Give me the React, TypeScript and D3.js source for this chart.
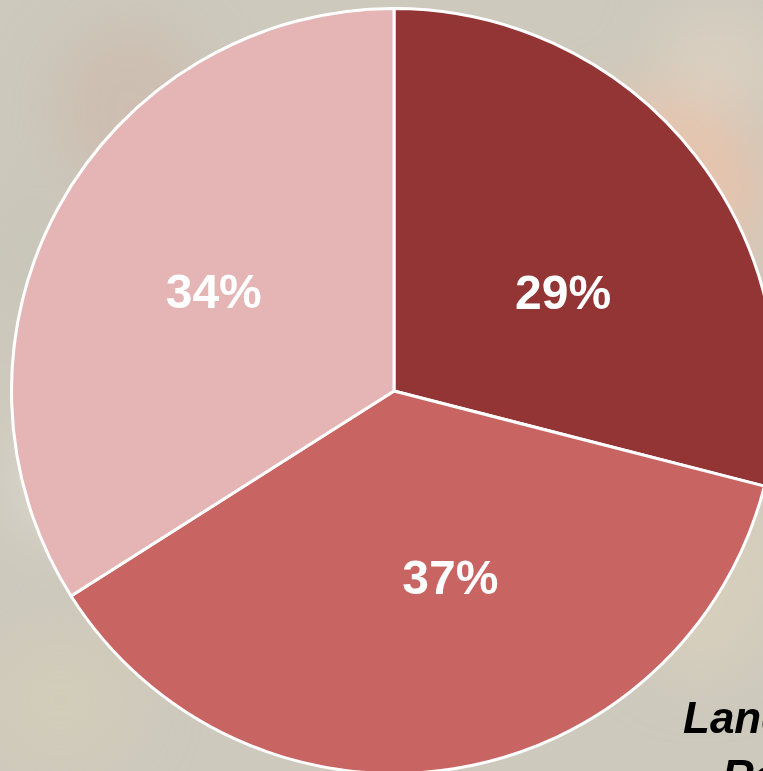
import React from "react";
import * as d3 from "d3";

const categories = ["A", "B", "C"];
const values = [29, 37, 34];
const labels = ["29%", "37%", "34%"];
const colors = ["#943535", "#c86462", "#e5b5b5"];
// fine label nudges (px) relative to arc centroid
const labelNudge = [[11, 24], [25, -11], [-5, -3]];

const W = 763;
const H = 771;
const CX = 394;
const CY = 391;
const R = 382.5;

const blobs = [
  { x: 660, y: 190, rx: 110, ry: 100, c: "#ecc2a8", o: 0.75 },
  { x: 720, y: 60, rx: 60, ry: 50, c: "#e2d6c4", o: 0.6 },
  { x: 130, y: 110, rx: 80, ry: 90, c: "#cdb0a0", o: 0.4 },
  { x: 60, y: 480, rx: 50, ry: 60, c: "#e0ddd2", o: 0.7 },
  { x: 700, y: 560, rx: 80, ry: 120, c: "#ddd2bc", o: 0.6 },
  { x: 60, y: 700, rx: 80, ry: 70, c: "#d6ceb8", o: 0.6 },
  { x: 720, y: 330, rx: 60, ry: 80, c: "#d8cdb8", o: 0.5 },
  { x: 30, y: 250, rx: 40, ry: 70, c: "#c4c4b6", o: 0.6 },
];

export default function App() {
  const data = categories.map((c, i) => ({ c, v: values[i], i }));
  const pie = d3.pie<any>().value((d) => d.v).sort(null);
  const arcs = pie(data);
  const arc = d3.arc<any>().innerRadius(0).outerRadius(R);
  const labelArc = d3.arc<any>().innerRadius(200).outerRadius(200);

  return (
    <div style={{ position: "fixed", left: 0, top: 0, width: W, height: H, overflow: "hidden" }}>
      <svg width={W} height={H} style={{ display: "block" }}>
        <defs>
          <filter id="blur" x="-50%" y="-50%" width="200%" height="200%">
            <feGaussianBlur stdDeviation="30" />
          </filter>
        </defs>
        <rect x={0} y={0} width={W} height={H} fill="#cdc9bd" />
        <g filter="url(#blur)">
          {blobs.map((b, i) => (
            <ellipse key={i} cx={b.x} cy={b.y} rx={b.rx} ry={b.ry} fill={b.c} opacity={b.o} />
          ))}
        </g>
        <g transform={`translate(${CX},${CY})`}>
          {arcs.map((a, i) => (
            <path key={i} d={arc(a) as string} fill={colors[i]} stroke="#ffffff" strokeWidth={3} strokeLinejoin="round" />
          ))}
          {arcs.map((a, i) => {
            const [x, y] = labelArc.centroid(a);
            return (
              <text
                key={"t" + i}
                x={x + labelNudge[i][0]}
                y={y + labelNudge[i][1]}
                textAnchor="middle"
                dominantBaseline="central"
                fill="#ffffff"
                fontFamily="'Liberation Sans', Arial, sans-serif"
                fontWeight="bold"
                fontSize={48}
              >
                {labels[i]}
              </text>
            );
          })}
        </g>
        <text
          x={683}
          y={733}
          fontFamily="'Liberation Sans', Arial, sans-serif"
          fontWeight="bold"
          fontStyle="italic"
          fontSize={44}
          fill="#000000"
        >
          Land
        </text>
        <text
          x={722}
          y={791}
          fontFamily="'Liberation Sans', Arial, sans-serif"
          fontWeight="bold"
          fontStyle="italic"
          fontSize={44}
          fill="#000000"
        >
          Re
        </text>
      </svg>
    </div>
  );
}
